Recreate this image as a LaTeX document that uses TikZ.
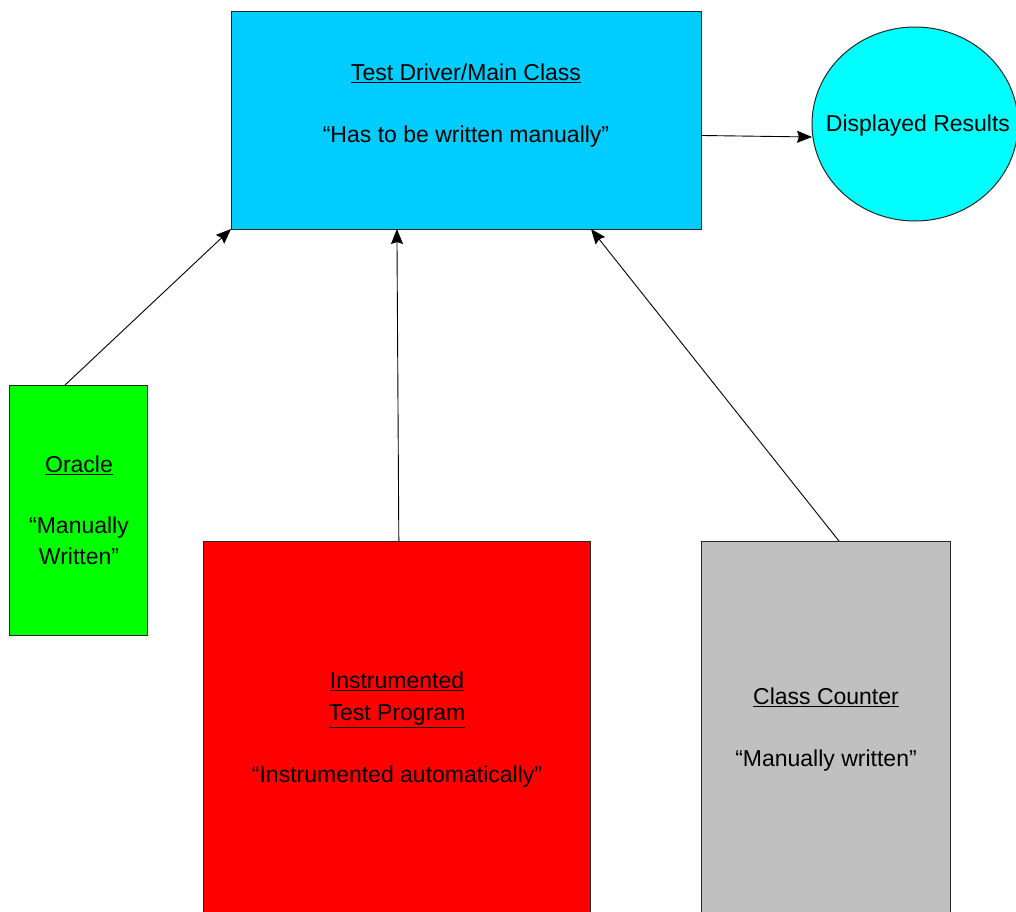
\documentclass[tikz,border=0pt]{standalone}
\usepackage{fontspec}
\setmainfont{Liberation Sans}
\usetikzlibrary{arrows.meta,calc,shapes.geometric}
\definecolor{mainblue}{HTML}{00CCFF}
\definecolor{circcyan}{HTML}{00FFFF}
\definecolor{oragreen}{HTML}{00FF00}
\definecolor{instred}{HTML}{FF0000}
\definecolor{cntgray}{HTML}{C0C0C0}
\tikzset{
  boxshape/.style={draw=black!85, line width=1pt, inner sep=0pt, outer sep=0pt},
  lbl/.style={align=center, inner sep=0pt, font=\fontsize{23}{31}\selectfont},
  conn/.style={draw=black, line width=0.9pt, -{Stealth[length=15pt,width=12pt,inset=2pt]}}
}
\begin{document}
\begin{tikzpicture}[x=1pt,y=-1pt]
\useasboundingbox (0,0) rectangle (1016,911);
\fill[white] (0,0) rectangle (1016,911);
% boxes
\node[boxshape, fill=mainblue, minimum width=470pt, minimum height=218pt] (main) at (466,120) {};
\node[boxshape, fill=circcyan, ellipse, minimum width=206pt, minimum height=194pt] (circ) at (915,124) {};
\node[boxshape, fill=oragreen, minimum width=138pt, minimum height=250pt] (oracle) at (78,510) {};
\node[boxshape, fill=instred, minimum width=387pt, minimum height=389pt] (instr) at (396.5,735.5) {};
\node[boxshape, fill=cntgray, minimum width=249pt, minimum height=389pt] (cnt) at (825.5,735.5) {};
% labels
\node[lbl] (mainlbl) at (466,106) {\underline{Test Driver/Main Class}\\[31pt]“Has to be written manually”};
\node[lbl] (circlbl) at (918,126) {Displayed Results};
\node[lbl] (oralbl) at (79,510) {\underline{Oracle}\\[30pt]“Manually\\Written”};
\node[lbl] (instrlbl) at (397,730) {\underline{Instrumented}\\[1pt]\underline{Test Program}\\[31pt]“Instrumented automatically”};
\node[lbl] (cntlbl) at (826,730) {\underline{Class Counter}\\[31pt]“Manually written”};
% connectors
\draw[conn] ($(oracle.north west)!0.406!(oracle.north east)$) -- (main.south west);
\draw[conn] ($(instr.north west)!0.506!(instr.north east)$) -- ($(main.south west)!0.353!(main.south east)$);
\draw[conn] ($(cnt.north west)!0.554!(cnt.north east)$) -- ($(main.south west)!0.766!(main.south east)$);
\draw[conn] ($(main.north east)!0.571!(main.south east)$) -- ($(circ.west)+(0,13)$);
\end{tikzpicture}
\end{document}
